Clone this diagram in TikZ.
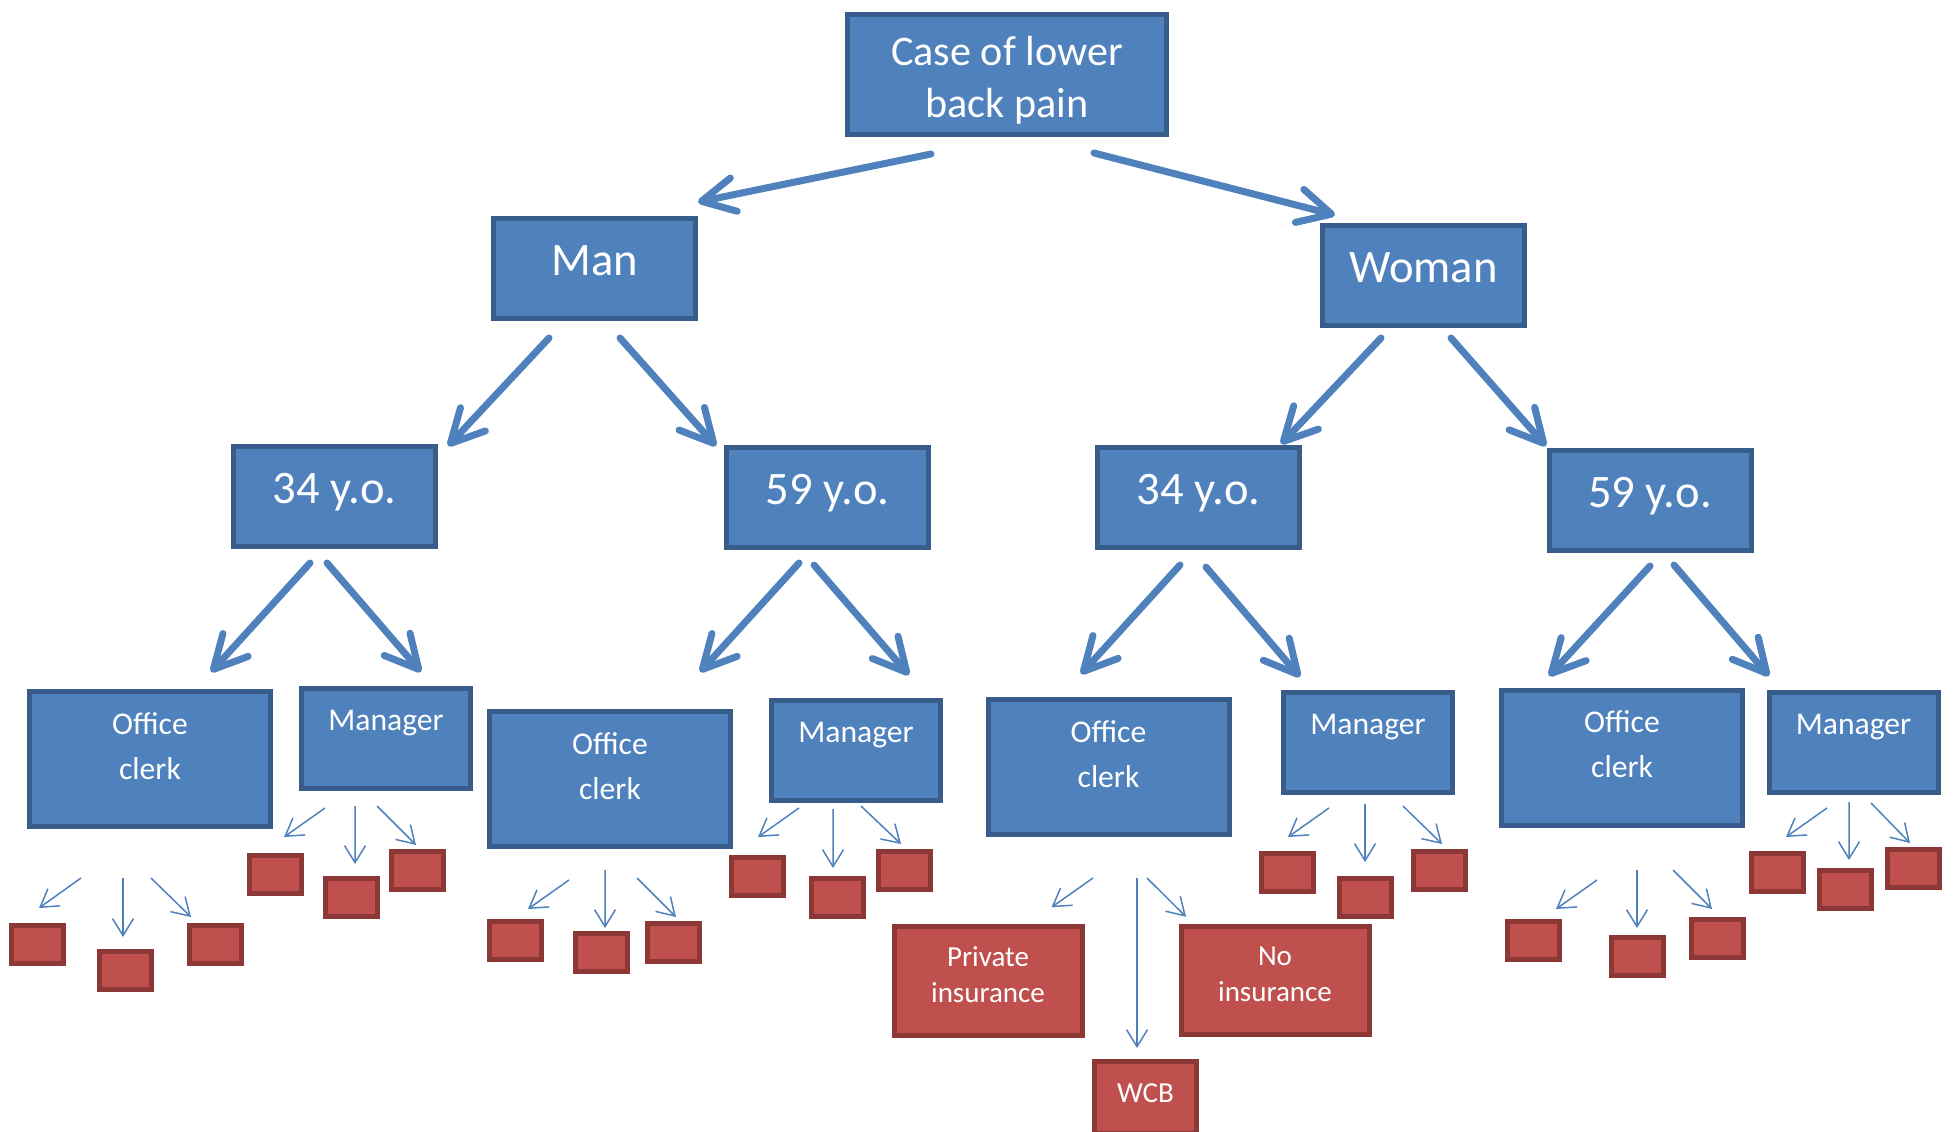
\documentclass[tikz,border=0pt]{standalone}
\usepackage{fontspec}
\setmainfont{Carlito}
\usetikzlibrary{arrows.meta}
\definecolor{boxblue}{HTML}{4F81BD}
\definecolor{edgeblue}{HTML}{385D8A}
\definecolor{boxred}{HTML}{C0504D}
\definecolor{edgered}{HTML}{8C3836}
\begin{document}
\begin{tikzpicture}
  \tikzstyle{block} = [rectangle, draw=edgeblue, fill=boxblue, text=white, line width = 1mm, inner sep = 0pt, outer sep = 0pt, align = center]
  \tikzstyle{top_block} = [block, minimum width = 63.8mm, minimum height = 24mm, font = \fontsize{24}{29.5}\selectfont, text height = 20mm, text depth = 3mm]
  \tikzstyle{sex_block} = [block, minimum width = 40.4mm, minimum height = 20mm, font = \fontsize{26.5}{32}\selectfont, text height = 6mm, text depth = 3.4mm]
  \tikzstyle{age_block} = [sex_block]
  \tikzstyle{clerk_block} = [block, minimum width = 48.2mm, minimum height = 27mm, font = \fontsize{18}{25.6}\selectfont, text height = 11mm, text depth = 3mm]
  \tikzstyle{manager_block} = [block, minimum width = 33.8mm, minimum height = 20mm, font = \fontsize{18}{25.6}\selectfont, text height = 4.5mm, text depth = 7.9mm]
  \tikzstyle{leaf} = [rectangle, draw=edgered, fill=boxred, line width = 1mm, inner sep = 0pt, outer sep = 0pt, minimum width = 10.4mm, minimum height = 7.6mm]
  \tikzstyle{outcome} = [leaf, text=white, align = center, minimum width = 37.6mm, minimum height = 21.7mm, font = \fontsize{16.5}{20.3}\selectfont, text height = 11.4mm, text depth = 3mm]
  \tikzstyle{arrow} = [-{Straight Barb[length = 6.6mm, width = 6.8mm, round]}, draw=boxblue, line width = 1.4mm, line cap = round]
  \tikzstyle{thin_arrow} = [-{Straight Barb[length = 3.4mm, width = 4.2mm]}, draw=boxblue, line width = 0.3mm]

  \useasboundingbox (0,0) rectangle (39.08,-22.62);

  \node [top_block] at (20.14,-1.49) (case) {Case of lower\\back pain};
  \node [sex_block] at (11.89,-5.37) (man) {Man};
  \node [sex_block] at (28.47,-5.51) (woman) {Woman};
  \node [age_block] at (6.69,-9.93) (man_34) {34 y.o.};
  \node [age_block] at (16.55,-9.95) (man_59) {59 y.o.};
  \node [age_block] at (23.97,-9.95) (woman_34) {34 y.o.};
  \node [age_block] at (33.0,-10.01) (woman_59) {59 y.o.};

  \node [clerk_block] at (3.0,-15.18) (man_34_clerk) {Office\\clerk};
  \node [manager_block] at (7.72,-14.77) (man_34_manager) {Manager};
  \node [clerk_block] at (12.2,-15.58) (man_59_clerk) {Office\\clerk};
  \node [manager_block] at (17.12,-15.01) (man_59_manager) {Manager};
  \node [clerk_block] at (22.17,-15.34) (woman_34_clerk) {Office\\clerk};
  \node [manager_block] at (27.36,-14.85) (woman_34_manager) {Manager};
  \node [clerk_block] at (32.44,-15.15) (woman_59_clerk) {Office\\clerk};
  \node [manager_block] at (37.07,-14.85) (woman_59_manager) {Manager};

  \node [leaf] at (0.75,-18.89) (man_34_clerk_a) {};
  \node [leaf] at (2.5,-19.41) (man_34_clerk_b) {};
  \node [leaf] at (4.3,-18.89) (man_34_clerk_c) {};
  \node [leaf] at (5.5,-17.49) (man_34_manager_a) {};
  \node [leaf] at (7.02,-17.94) (man_34_manager_b) {};
  \node [leaf] at (8.34,-17.41) (man_34_manager_c) {};
  \node [leaf] at (10.3,-18.81) (man_59_clerk_a) {};
  \node [leaf] at (12.02,-19.05) (man_59_clerk_b) {};
  \node [leaf] at (13.46,-18.85) (man_59_clerk_c) {};
  \node [leaf] at (15.14,-17.53) (man_59_manager_a) {};
  \node [leaf] at (16.74,-17.94) (man_59_manager_b) {};
  \node [leaf] at (18.08,-17.41) (man_59_manager_c) {};
  \node [outcome] at (19.76,-19.62) (private) {Private\\insurance};
  \node [outcome, minimum width = 20.4mm, minimum height = 14.4mm, text height = 4mm, text depth = 2.2mm] at (22.91,-21.95) (wcb) {WCB};
  \node [outcome] at (25.5,-19.61) (no_insurance) {No\\insurance};
  \node [leaf] at (25.74,-17.45) (woman_34_manager_a) {};
  \node [leaf] at (27.3,-17.94) (woman_34_manager_b) {};
  \node [leaf] at (28.78,-17.41) (woman_34_manager_c) {};
  \node [leaf] at (30.66,-18.81) (woman_59_clerk_a) {};
  \node [leaf] at (32.74,-19.13) (woman_59_clerk_b) {};
  \node [leaf] at (34.34,-18.76) (woman_59_clerk_c) {};
  \node [leaf] at (35.54,-17.45) (woman_59_manager_a) {};
  \node [leaf] at (36.9,-17.78) (woman_59_manager_b) {};
  \node [leaf] at (38.26,-17.37) (woman_59_manager_c) {};

  \draw[arrow] ([shift={(-1.52,-0.39)}]case.south) -- ([shift={(0.05,0.33)}]man.north east);
  \draw[arrow] ([shift={(1.74,-0.37)}]case.south) -- ([shift={(0.25,0.21)}]woman.north west);
  \draw[arrow] ([shift={(-0.91,-0.39)}]man.south) -- ([shift={(0.25,0.01)}]man_34.north east);
  \draw[arrow] ([shift={(0.51,-0.39)}]man.south) -- ([shift={(-0.21,0.03)}]man_59.north west);
  \draw[arrow] ([shift={(-0.85,-0.25)}]woman.south) -- ([shift={(-0.37,0.07)}]woman_34.north east);
  \draw[arrow] ([shift={(0.55,-0.25)}]woman.south) -- ([shift={(-0.06,0.09)}]woman_59.north west);
  \draw[arrow] ([shift={(-0.49,-0.33)}]man_34.south) -- ([shift={(1.22,0.39)}]man_34_clerk.north);
  \draw[arrow] ([shift={(-0.15,-0.33)}]man_34.south) -- ([shift={(0.7,0.33)}]man_34_manager.north);
  \draw[arrow] ([shift={(-0.57,-0.31)}]man_59.south) -- ([shift={(1.8,0.79)}]man_59_clerk.north);
  \draw[arrow] ([shift={(-0.27,-0.35)}]man_59.south) -- ([shift={(1.06,0.51)}]man_59_manager.north);
  \draw[arrow] ([shift={(-0.37,-0.35)}]woman_34.south) -- ([shift={(-0.55,0.51)}]woman_34_clerk.north);
  \draw[arrow] ([shift={(0.15,-0.39)}]woman_34.south) -- ([shift={(-1.36,0.31)}]woman_34_manager.north);
  \draw[arrow] ([shift={(0,-0.31)}]woman_59.south) -- ([shift={(-1.46,0.28)}]woman_59_clerk.north);
  \draw[arrow] ([shift={(0.48,-0.29)}]woman_59.south) -- ([shift={(-1.69,0.33)}]woman_59_manager.north);

  \draw[thin_arrow] ([shift={(-1.38,-1.03)}]man_34_clerk.south) -- ([shift={(0.03,0.35)}]man_34_clerk_a.north);
  \draw[thin_arrow] ([shift={(-0.54,-1.03)}]man_34_clerk.south) -- ([shift={(-0.04,0.29)}]man_34_clerk_b.north);
  \draw[thin_arrow] ([shift={(0.02,-1.03)}]man_34_clerk.south) -- ([shift={(-0.48,0.17)}]man_34_clerk_c.north);
  \draw[thin_arrow] ([shift={(-1.22,-0.39)}]man_34_manager.south) -- ([shift={(0.18,0.37)}]man_34_manager_a.north);
  \draw[thin_arrow] ([shift={(-0.62,-0.35)}]man_34_manager.south) -- ([shift={(0.08,0.28)}]man_34_manager_b.north);
  \draw[thin_arrow] ([shift={(-0.18,-0.35)}]man_34_manager.south) -- ([shift={(-0.02,0.13)}]man_34_manager_c.north);
  \draw[thin_arrow] ([shift={(-0.82,-0.67)}]man_59_clerk.south) -- ([shift={(0.26,0.25)}]man_59_clerk_a.north);
  \draw[thin_arrow] ([shift={(-0.1,-0.47)}]man_59_clerk.south) -- ([shift={(0.08,0.11)}]man_59_clerk_b.north);
  \draw[thin_arrow] ([shift={(0.54,-0.63)}]man_59_clerk.south) -- ([shift={(0.06,0.13)}]man_59_clerk_c.north);
  \draw[thin_arrow] ([shift={(-1.14,-0.15)}]man_59_manager.south) -- ([shift={(0.02,0.41)}]man_59_manager_a.north);
  \draw[thin_arrow] ([shift={(-0.46,-0.17)}]man_59_manager.south) -- ([shift={(-0.08,0.2)}]man_59_manager_b.north);
  \draw[thin_arrow] ([shift={(0.1,-0.11)}]man_59_manager.south) -- ([shift={(-0.06,0.15)}]man_59_manager_c.north);
  \draw[thin_arrow] ([shift={(-0.31,-0.87)}]woman_34_clerk.south) -- ([shift={(-0.61,0.39)}]private.north east);
  \draw[thin_arrow] ([shift={(0.57,-0.87)}]woman_34_clerk.south) -- ([shift={(-0.17,0.27)}]wcb.north);
  \draw[thin_arrow] ([shift={(0.77,-0.87)}]woman_34_clerk.south) -- ([shift={(0.1,0.19)}]no_insurance.north west);
  \draw[thin_arrow] ([shift={(-0.78,-0.31)}]woman_34_manager.south) -- ([shift={(0.02,0.33)}]woman_34_manager_a.north);
  \draw[thin_arrow] ([shift={(-0.06,-0.23)}]woman_34_manager.south) -- ([shift={(0,0.32)}]woman_34_manager_b.north);
  \draw[thin_arrow] ([shift={(0.7,-0.27)}]woman_34_manager.south) -- ([shift={(0.06,0.15)}]woman_34_manager_c.north);
  \draw[thin_arrow] ([shift={(-0.5,-1.1)}]woman_59_clerk.south) -- ([shift={(0.46,0.25)}]woman_59_clerk_a.north);
  \draw[thin_arrow] ([shift={(0.3,-0.9)}]woman_59_clerk.south) -- ([shift={(0,0.19)}]woman_59_clerk_b.north);
  \draw[thin_arrow] ([shift={(1.02,-0.9)}]woman_59_clerk.south) -- ([shift={(-0.1,0.2)}]woman_59_clerk_c.north);
  \draw[thin_arrow] ([shift={(-0.53,-0.31)}]woman_59_manager.south) -- ([shift={(0.18,0.33)}]woman_59_manager_a.north);
  \draw[thin_arrow] ([shift={(-0.09,-0.19)}]woman_59_manager.south) -- ([shift={(0.08,0.2)}]woman_59_manager_b.north);
  \draw[thin_arrow] ([shift={(0.35,-0.21)}]woman_59_manager.south) -- ([shift={(-0.06,0.13)}]woman_59_manager_c.north);
\end{tikzpicture}
\end{document}
